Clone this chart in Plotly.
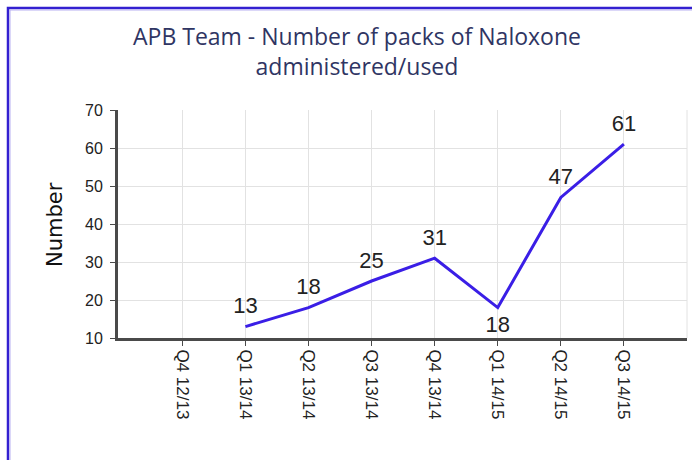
import plotly.graph_objects as go

# Quarterly counts of Naloxone packs administered/used by the APB Team
quarters = ["Q4 12/13", "Q1 13/14", "Q2 13/14", "Q3 13/14",
            "Q4 13/14", "Q1 14/15", "Q2 14/15", "Q3 14/15"]
packs = [None, 13, 18, 25, 31, 18, 47, 61]
label_pos = ["top center", "top center", "top center", "top center",
             "top center", "bottom center", "top center", "top center"]

y_ticks = [10, 20, 30, 40, 50, 60, 70]

x_idx = list(range(len(quarters)))
labels = ["" if v is None else str(v) for v in packs]

PLOT_W = 692 - 118 - 5
PLOT_H = 460 - 110 - 122

fig = go.Figure()
fig.add_trace(go.Scatter(
    x=x_idx, y=packs,
    mode="lines+markers+text",
    line=dict(color="#3a1ee6", width=3),
    # invisible markers keep the value labels clear of the line
    marker=dict(size=11, color="rgba(0,0,0,0)"),
    text=labels,
    textposition=label_pos,
    textfont=dict(family="Liberation Sans Narrow, Liberation Sans, sans-serif",
                  size=22, color="#222222"),
    cliponaxis=False,
    hoverinfo="skip",
    showlegend=False,
))

tick_font = dict(family="Liberation Sans, Arial, sans-serif", size=16, color="#222222")

fig.update_layout(
    width=692, height=460,
    margin=dict(l=118, r=5, t=110, b=122),
    paper_bgcolor="white",
    plot_bgcolor="white",
    xaxis=dict(
        range=[-1.02, 8.0],
        tickmode="array", tickvals=x_idx, ticktext=quarters,
        tickangle=90,
        tickfont=dict(family="Liberation Sans, Arial, sans-serif", size=17, color="#222222"),
        showgrid=True, gridcolor="#e2e2e2", gridwidth=1,
        showline=True, linecolor="#4a4a4a", linewidth=3,
        ticks="outside", ticklen=5, tickcolor="#4a4a4a", tickwidth=1,
        zeroline=False, fixedrange=True,
    ),
    yaxis=dict(
        range=[10, 70],
        tickmode="array", tickvals=y_ticks,
        tickfont=tick_font,
        ticklabelstandoff=4,
        showgrid=True, gridcolor="#e2e2e2", gridwidth=1,
        showline=True, linecolor="#4a4a4a", linewidth=3,
        ticks="outside", ticklen=5, tickcolor="#4a4a4a", tickwidth=1,
        zeroline=False, fixedrange=True,
    ),
    annotations=[
        dict(
            text="APB Team - Number of packs of Naloxone<br>administered/used",
            xref="paper", yref="paper",
            x=(357 - 118) / PLOT_W, y=1 + (110 - 18) / PLOT_H,
            xanchor="center", yanchor="top", align="center",
            showarrow=False,
            font=dict(family="Open Sans, sans-serif", size=23, color="#2f3563"),
        ),
        dict(
            text="Number", textangle=-90,
            xref="paper", yref="paper",
            x=(55 - 118) / PLOT_W, y=(338 - 225) / PLOT_H,
            xanchor="center", yanchor="middle",
            showarrow=False,
            font=dict(family="DejaVu Sans, sans-serif", size=21, color="#111111"),
        ),
    ],
    shapes=[
        # light frame line on the right edge of the plotting area
        dict(type="line", xref="paper", yref="paper", x0=1, x1=1, y0=0, y1=1,
             line=dict(color="#e2e2e2", width=1), layer="below"),
        # outer chart border (top and left visible)
        dict(type="rect", xref="paper", yref="paper",
             x0=(8 - 118) / PLOT_W, x1=1.1, y0=-0.6, y1=1 + (110 - 8) / PLOT_H,
             line=dict(color="#3320d0", width=2.5), layer="below"),
        dict(type="rect", xref="paper", yref="paper",
             x0=(10 - 118) / PLOT_W, x1=1.1, y0=-0.6, y1=1 + (110 - 10) / PLOT_H,
             line=dict(color="#b8b0f2", width=1), layer="below"),
    ],
)

fig.write_html("out.html")
